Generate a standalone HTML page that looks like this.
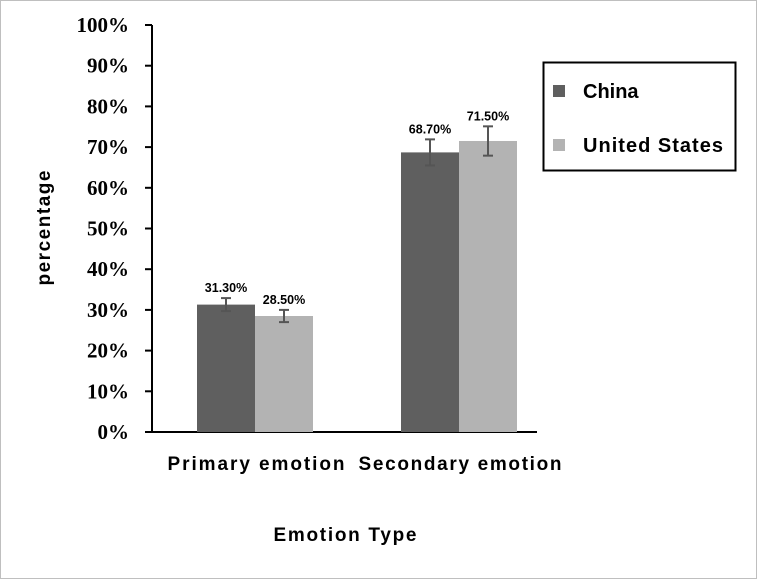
<!DOCTYPE html>
<html><head><meta charset="utf-8"><style>
body{margin:0;background:#fff}
svg{display:block}
</style></head><body>
<svg id="chart" width="757" height="579" xmlns="http://www.w3.org/2000/svg">
<rect x="0.5" y="0.5" width="756" height="578" fill="#fff" stroke="#bfbfbf"/>
<g id="axes"></g>
<g id="bars"></g>
<text x="50" y="228" transform="rotate(-90 50 228)" text-anchor="middle" font-family="Liberation Sans, sans-serif" font-weight="bold" font-size="19" textLength="115">percentage</text>
<text x="345" y="541" text-anchor="middle" font-family="Liberation Sans, sans-serif" font-weight="bold" font-size="19" textLength="143">Emotion Type</text>
<g>
<rect x="543.5" y="62.5" width="192" height="108" fill="#fff" stroke="#000" stroke-width="2"/>
<rect x="553" y="85" width="12" height="12" fill="#5f5f5f"/>
<text x="583" y="98" font-family="Liberation Sans, sans-serif" font-weight="bold" font-size="20">China</text>
<rect x="553" y="139" width="12" height="12" fill="#b3b3b3"/>
<text x="583" y="152" font-family="Liberation Sans, sans-serif" font-weight="bold" font-size="20" textLength="140">United States</text>
</g>
</svg>
<script>
const categories = ["Primary emotion", "Secondary emotion"];
const chinaValues = [31.3, 68.7];
const usValues = [28.5, 71.5];
const chinaErrors = [1.6, 3.2];
const usErrors = [1.5, 3.6];
const tickValues = [0,10,20,30,40,50,60,70,80,90,100];
const labelWidths = [177, 203];

const NS = "http://www.w3.org/2000/svg";
const x0 = 152, x1 = 537, yBase = 432, yTop = 25;
const y = v => yBase - (v/100)*(yBase - yTop);
const groupW = 204;
const barW = 58;
const cx = i => x0 + 103 + groupW*i;
function mk(tag, attrs, parent){const e=document.createElementNS(NS,tag);for(const k in attrs)e.setAttribute(k,attrs[k]);parent.appendChild(e);return e;}
const axes = document.getElementById('axes');
const bars = document.getElementById('bars');
let yl = mk('line',{x1:x0,y1:yTop,x2:x0,y2:yBase+1,stroke:'#000','stroke-width':2},axes);


let xl = mk('line',{x1:x0-1,y1:yBase,x2:x1,y2:yBase,stroke:'#000','stroke-width':2},axes);


tickValues.forEach(v=>{
  const t = mk('line',{x1:x0-7,y1:y(v),x2:x0,y2:y(v),stroke:'#000','stroke-width':2},axes);
  
  
  const l = mk('text',{x:129,y:y(v)+7,'text-anchor':'end','font-family':'Liberation Serif, serif','font-weight':'bold','font-size':21},axes);
  l.textContent = v+'%';
  
  
});
categories.forEach((c,i)=>{
  const lab = mk('text',{x:cx(i)+1,y:470,'text-anchor':'middle','font-family':'Liberation Sans, sans-serif','font-weight':'bold','font-size':19,textLength:labelWidths[i]},axes);
  lab.textContent = c;
  
  
  [[chinaValues,chinaErrors,'#5f5f5f',-barW,'china'],[usValues,usErrors,'#b3b3b3',0,'us']].forEach(([vals,errs,col,off,nm])=>{
    const v = vals[i], e = errs[i];
    const bx = cx(i)+off;
    const r = mk('rect',{x:bx,y:y(v),width:barW,height:yBase-y(v),fill:col},bars);
    
    
    const mx = bx+barW/2;
    const g = mk('g',{stroke:'#555','stroke-width':2},bars);
    
    
    mk('line',{x1:mx,y1:y(v+e),x2:mx,y2:y(v-e)},g);
    mk('line',{x1:mx-5,y1:y(v+e),x2:mx+5,y2:y(v+e)},g);
    mk('line',{x1:mx-5,y1:y(v-e),x2:mx+5,y2:y(v-e)},g);
    const t = mk('text',{x:mx,y:y(v+e)-6,'text-anchor':'middle','font-family':'Liberation Sans, sans-serif','font-weight':'bold','font-size':12.5},bars);
    t.textContent = v.toFixed(2)+'%';
    
    
  });
});
</script>
</body></html>
